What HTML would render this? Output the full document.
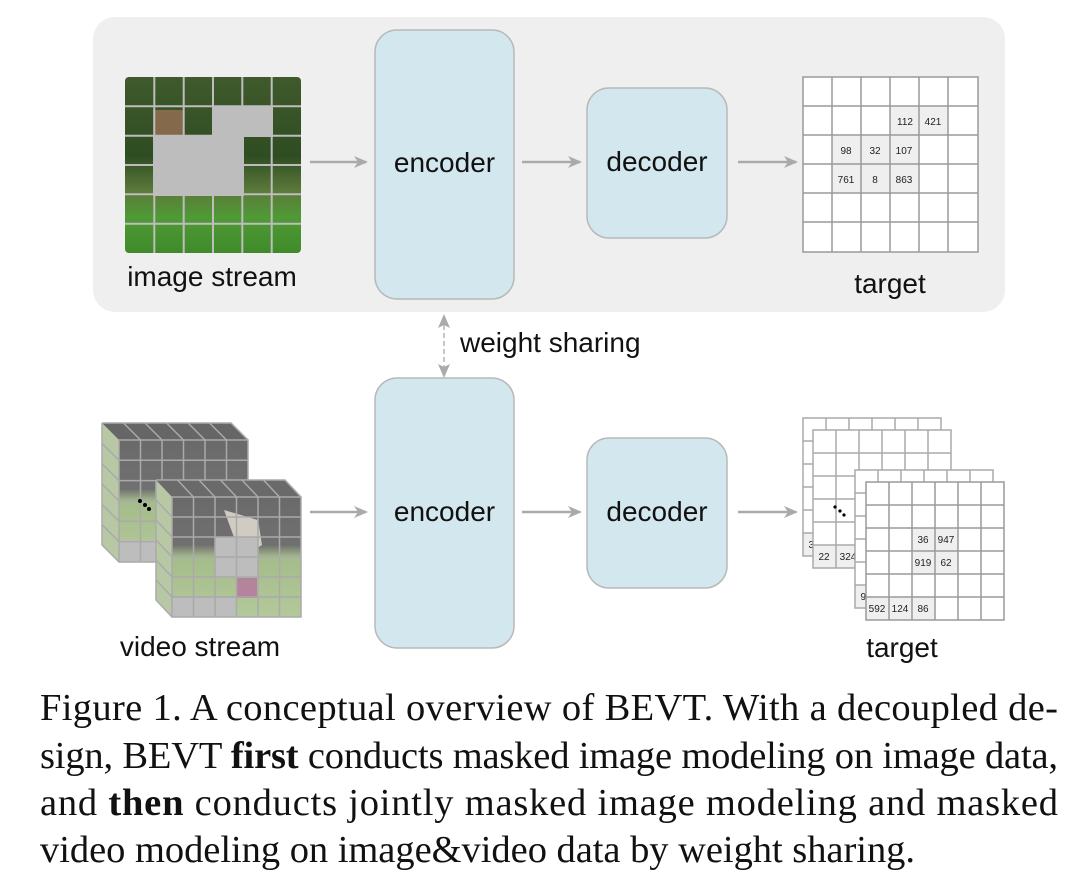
<!DOCTYPE html>
<html><head><meta charset="utf-8"><style>
html,body{margin:0;padding:0;background:#fff;}
svg{display:block;}
.l{font-family:"Liberation Sans",sans-serif;fill:#111;}
.n{font-family:"Liberation Sans",sans-serif;font-size:10px;fill:#222;text-anchor:middle;}
.c{font-family:"Liberation Serif",serif;font-size:38.5px;fill:#111;}
</style></head><body>
<svg width="1080" height="892" viewBox="0 0 1080 892" xmlns="http://www.w3.org/2000/svg">
<defs>
<linearGradient id="cat" x1="0" y1="0" x2="0" y2="1">
<stop offset="0" stop-color="#3f5a2c"/><stop offset="0.45" stop-color="#2f4d22"/><stop offset="0.65" stop-color="#5c7a3a"/><stop offset="0.8" stop-color="#4f9a35"/><stop offset="1" stop-color="#3f8a2a"/>
</linearGradient>
<linearGradient id="vid" x1="0" y1="0" x2="0" y2="1">
<stop offset="0" stop-color="#6a6a6a"/><stop offset="0.4" stop-color="#707070"/><stop offset="0.5" stop-color="#a4bb8a"/><stop offset="1" stop-color="#b4c99a"/>
</linearGradient>
<marker id="ah" markerWidth="14" markerHeight="12" refX="12" refY="6" orient="auto" markerUnits="userSpaceOnUse">
<path d="M0,0 L14,6 L0,12 L4,6 Z" fill="#aaa"/></marker>
</defs>

<rect x="93" y="17" width="912" height="295" rx="22" fill="#efefef"/>

<rect x="125" y="77" width="176" height="176" rx="4" fill="url(#cat)"/>
<rect x="153" y="110" width="30" height="30" fill="#a6735a" opacity="0.7"/>
<rect x="212" y="106" width="61" height="31" fill="#bdbdbd"/>
<rect x="153" y="136" width="91" height="60" fill="#bdbdbd"/>
<path d="M154.3 77V253M183.7 77V253M213 77V253M242.3 77V253M271.7 77V253M125 106.3H301M125 135.7H301M125 165H301M125 194.3H301M125 223.7H301" stroke="#bdbdbd" stroke-width="2"/>
<text class="l" x="212" y="286" font-size="28" text-anchor="middle">image stream</text>

<rect x="375" y="30" width="139" height="269" rx="22" fill="#d3e7ee" stroke="#b9b9b9" stroke-width="1.5"/>
<text class="l" x="444.5" y="172" font-size="28" text-anchor="middle">encoder</text>
<rect x="587" y="88" width="140" height="150" rx="22" fill="#d3e7ee" stroke="#b9b9b9" stroke-width="1.5"/>
<text class="l" x="657" y="171" font-size="28" text-anchor="middle">decoder</text>
<path d="M310 162H366" stroke="#aaa" stroke-width="2.5" marker-end="url(#ah)"/>
<path d="M522 162H580" stroke="#aaa" stroke-width="2.5" marker-end="url(#ah)"/>
<path d="M738 162H796" stroke="#aaa" stroke-width="2.5" marker-end="url(#ah)"/>

<rect x="803" y="77" width="175" height="175" fill="#fff"/>
<rect x="890" y="106" width="58" height="29" fill="#efefef"/>
<rect x="832" y="135" width="87" height="58" fill="#efefef"/>
<path d="M803 77H978V252H803ZM832 77V252M861 77V252M890 77V252M919 77V252M948 77V252M803 106H978M803 135H978M803 164H978M803 193H978M803 222H978" fill="none" stroke="#9a9a9a" stroke-width="1.5"/>
<text class="n" x="905" y="125">112</text><text class="n" x="933" y="125">421</text>
<text class="n" x="846" y="154">98</text><text class="n" x="875" y="154">32</text><text class="n" x="904" y="154">107</text>
<text class="n" x="846" y="183">761</text><text class="n" x="875" y="183">8</text><text class="n" x="904" y="183">863</text>
<text class="l" x="890" y="293" font-size="28" text-anchor="middle">target</text>

<path d="M444 325V368" stroke="#c8c8c8" stroke-width="2" stroke-dasharray="5,3"/>
<path d="M444 314L438 328L444 325L450 328Z M444 378L438 364L444 367L450 364Z" fill="#aaa"/>
<text class="l" x="460" y="352" font-size="28">weight sharing</text>

<rect x="375" y="378" width="139" height="270" rx="22" fill="#d3e7ee" stroke="#b9b9b9" stroke-width="1.5"/>
<text class="l" x="444.5" y="521" font-size="28" text-anchor="middle">encoder</text>
<rect x="587" y="438" width="140" height="150" rx="22" fill="#d3e7ee" stroke="#b9b9b9" stroke-width="1.5"/>
<text class="l" x="657" y="521" font-size="28" text-anchor="middle">decoder</text>
<path d="M310 512H366" stroke="#aaa" stroke-width="2.5" marker-end="url(#ah)"/>
<path d="M522 512H580" stroke="#aaa" stroke-width="2.5" marker-end="url(#ah)"/>
<path d="M738 512H796" stroke="#aaa" stroke-width="2.5" marker-end="url(#ah)"/>

<g>
<polygon points="102,423 231,423 248,440 248,562 119,562 102,545" fill="#8a8a8a"/>
<polygon points="102,423 231,423 248,440 119,440" fill="#666"/>
<polygon points="102,423 119,440 119,562 102,545" fill="#b8c8a4"/>
<rect x="119" y="440" width="129" height="122" fill="url(#vid)"/>
<rect x="119" y="540" width="129" height="22" fill="#bdbdbd"/>
<path d="M102 423H231L248 440M102 423V545L119 562M123.5 423L140.5 440M145 423L162 440M166.5 423L183.5 440M188 423L205 440M209.5 423L226.5 440M102 443.3L119 460.3M102 463.6L119 480.6M102 484L119 501M102 504.3L119 521.3M102 524.6L119 541.6" fill="none" stroke="#aaa" stroke-width="1.5"/>
<path d="M119 440H248V562H119ZM140.5 440V562M162 440V562M183.5 440V562M205 440V562M226.5 440V562M119 460.3H248M119 480.6H248M119 501H248M119 521.3H248M119 541.6H248" fill="none" stroke="#aaa" stroke-width="1.5"/>
<circle cx="140" cy="501" r="2" fill="#000"/><circle cx="145" cy="505" r="2" fill="#000"/><circle cx="149" cy="509" r="2" fill="#000"/>
</g>
<g>
<polygon points="156,480 285,480 301,497 301,617 172,617 156,600" fill="#8a8a8a"/>
<polygon points="156,480 285,480 301,497 172,497" fill="#6a6a6a"/>
<polygon points="156,480 172,497 172,617 156,600" fill="#b8c8a4"/>
<rect x="172" y="497" width="129" height="120" fill="url(#vid)"/>
<path d="M224 510 L235 540 L245 555 L262 545 L258 520 Z" fill="#e8e4d8" opacity="0.8"/>
<rect x="215" y="537" width="43" height="40" fill="#bdbdbd"/>
<rect x="172" y="597" width="64" height="20" fill="#bdbdbd"/>
<rect x="237" y="578" width="20" height="20" fill="#b86aa0" opacity="0.7"/>
<path d="M156 480H285L301 497M156 480V600L172 617M177.5 480L193.5 497M199 480L215 497M220.5 480L236.5 497M242 480L258 497M263.5 480L279.5 497M156 500L172 517M156 520L172 537M156 540L172 557M156 560L172 577M156 580L172 597" fill="none" stroke="#aaa" stroke-width="1.5"/>
<path d="M172 497H301V617H172ZM193.5 497V617M215 497V617M236.5 497V617M258 497V617M279.5 497V617M172 517H301M172 537H301M172 557H301M172 577H301M172 597H301" fill="none" stroke="#aaa" stroke-width="1.5"/>
</g>
<text class="l" x="200" y="656" font-size="28" text-anchor="middle">video stream</text>

<g>
<rect x="803" y="418" width="138" height="138" fill="#fff"/>
<rect x="803" y="533" width="23" height="23" fill="#efefef"/>
<path d="M803 418H941V556H803ZM826 418V556M849 418V556M872 418V556M895 418V556M918 418V556M803 441H941M803 464H941M803 487H941M803 510H941M803 533H941" fill="none" stroke="#aaa" stroke-width="1.5"/>
<text class="n" x="814" y="548">34</text>
</g>
<g>
<rect x="813" y="430" width="138" height="138" fill="#fff"/>
<rect x="813" y="545" width="46" height="23" fill="#efefef"/>
<path d="M813 430H951V568H813ZM836 430V568M859 430V568M882 430V568M905 430V568M928 430V568M813 453H951M813 476H951M813 499H951M813 522H951M813 545H951" fill="none" stroke="#aaa" stroke-width="1.5"/>
<text class="n" x="824" y="560">22</text><text class="n" x="848" y="560">324</text>
<circle cx="835" cy="507" r="1.6" fill="#000"/><circle cx="840" cy="511" r="1.6" fill="#000"/><circle cx="844" cy="515" r="1.6" fill="#000"/>
</g>
<g>
<rect x="855" y="470" width="138" height="138" fill="#fff"/>
<rect x="855" y="585" width="23" height="23" fill="#efefef"/>
<path d="M855 470H993V608H855ZM878 470V608M901 470V608M924 470V608M947 470V608M970 470V608M855 493H993M855 516H993M855 539H993M855 562H993M855 585H993" fill="none" stroke="#aaa" stroke-width="1.5"/>
<text class="n" x="866" y="600">97</text>
</g>
<g>
<rect x="866" y="482" width="138" height="138" fill="#fff"/>
<rect x="912" y="528" width="46" height="46" fill="#efefef"/>
<rect x="866" y="597" width="69" height="23" fill="#efefef"/>
<path d="M866 482H1004V620H866ZM889 482V620M912 482V620M935 482V620M958 482V620M981 482V620M866 505H1004M866 528H1004M866 551H1004M866 574H1004M866 597H1004" fill="none" stroke="#9a9a9a" stroke-width="1.5"/>
<text class="n" x="923" y="543">36</text><text class="n" x="946" y="543">947</text>
<text class="n" x="923" y="566">919</text><text class="n" x="946" y="566">62</text>
<text class="n" x="877" y="612">592</text><text class="n" x="900" y="612">124</text><text class="n" x="923" y="612">86</text>
</g>
<text class="l" x="902" y="657" font-size="28" text-anchor="middle">target</text>

<text class="c" x="40" y="720" textLength="1018" lengthAdjust="spacing">Figure 1. A conceptual overview of BEVT. With a decoupled de-</text>
<text class="c" x="40" y="768" textLength="1018" lengthAdjust="spacing">sign, BEVT <tspan font-weight="bold">first</tspan> conducts masked image modeling on image data,</text>
<text class="c" x="40" y="815" textLength="1018" lengthAdjust="spacing">and <tspan font-weight="bold">then</tspan> conducts jointly masked image modeling and masked</text>
<text class="c" x="40" y="862" textLength="875" lengthAdjust="spacing">video modeling on image&amp;video data by weight sharing.</text>
</svg>
</body></html>
